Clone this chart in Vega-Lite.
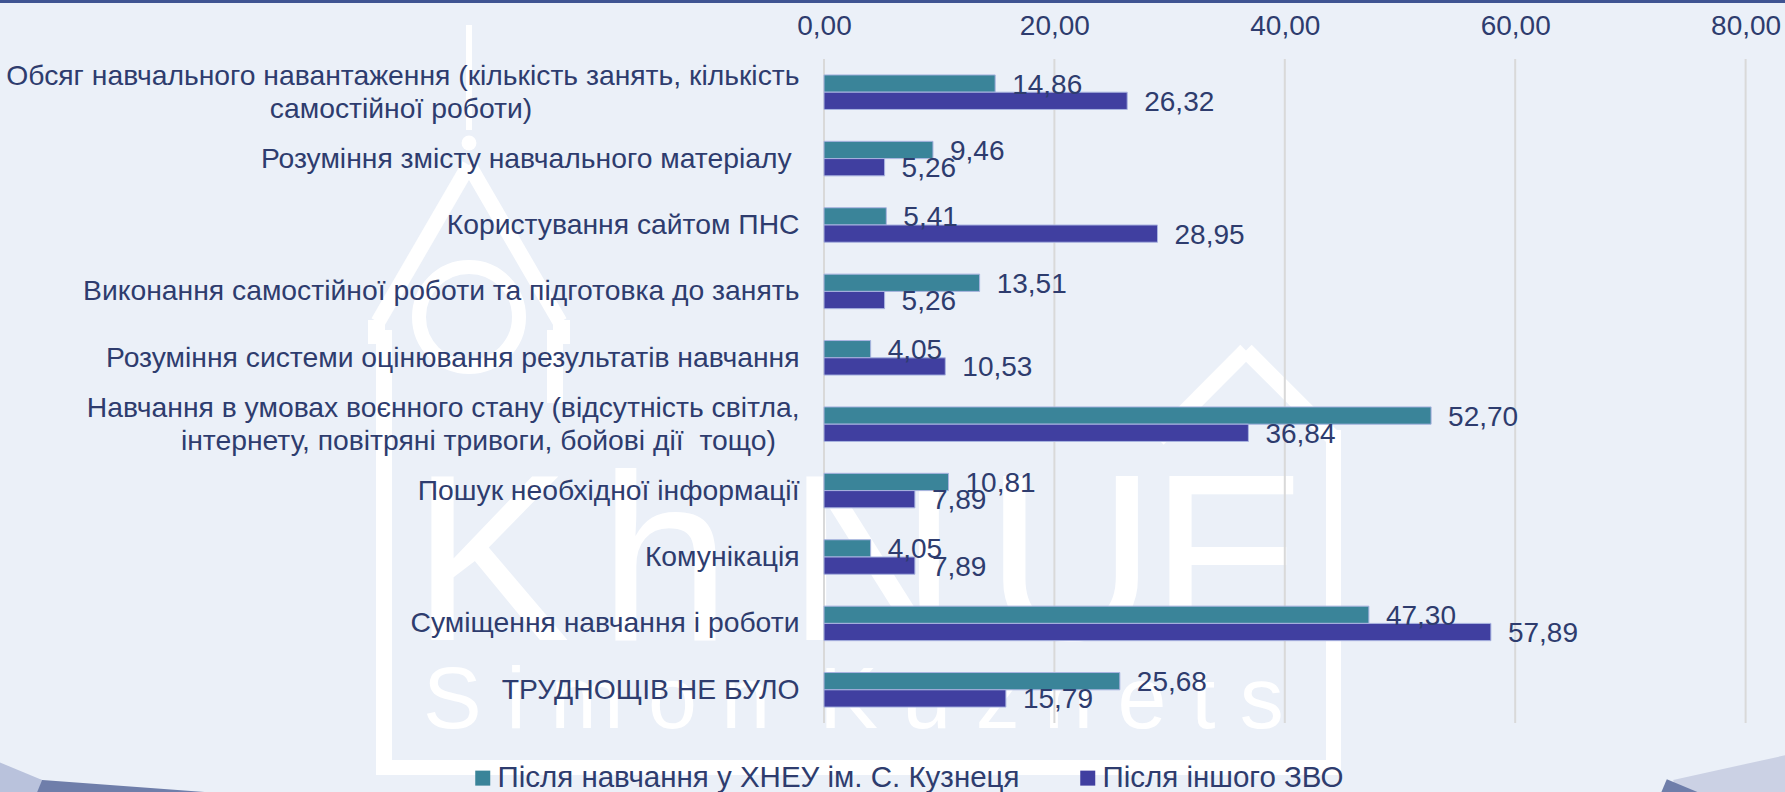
{
"$schema":"https://vega.github.io/schema/vega-lite/v6.json",
"width":921.6,"height":664,
"autosize":{"type":"none"},
"padding":{"left":824,"top":59,"right":39.4,"bottom":69},
"background":"#EBF0F8",
"config":{"view":{"stroke":null},"font":"Liberation Sans","locale":{"number":{"decimal":",","thousands":" ","grouping":[3],"currency":["",""]}}},
"datasets":{"rows":[
{"c":"Обсяг навчального навантаження (кількість занять, кількість|самостійної роботи)","s":"Після навчання у ХНЕУ ім. С. Кузнеця","v":14.86},
{"c":"Обсяг навчального навантаження (кількість занять, кількість|самостійної роботи)","s":"Після іншого ЗВО","v":26.32},
{"c":"Розуміння змісту навчального матеріалу","s":"Після навчання у ХНЕУ ім. С. Кузнеця","v":9.46},
{"c":"Розуміння змісту навчального матеріалу","s":"Після іншого ЗВО","v":5.26},
{"c":"Користування сайтом ПНС","s":"Після навчання у ХНЕУ ім. С. Кузнеця","v":5.41},
{"c":"Користування сайтом ПНС","s":"Після іншого ЗВО","v":28.95},
{"c":"Виконання самостійної роботи та підготовка до занять","s":"Після навчання у ХНЕУ ім. С. Кузнеця","v":13.51},
{"c":"Виконання самостійної роботи та підготовка до занять","s":"Після іншого ЗВО","v":5.26},
{"c":"Розуміння системи оцінювання результатів навчання","s":"Після навчання у ХНЕУ ім. С. Кузнеця","v":4.05},
{"c":"Розуміння системи оцінювання результатів навчання","s":"Після іншого ЗВО","v":10.53},
{"c":"Навчання в умовах воєнного стану (відсутність світла,|інтернету, повітряні тривоги, бойові дії  тощо)","s":"Після навчання у ХНЕУ ім. С. Кузнеця","v":52.70},
{"c":"Навчання в умовах воєнного стану (відсутність світла,|інтернету, повітряні тривоги, бойові дії  тощо)","s":"Після іншого ЗВО","v":36.84},
{"c":"Пошук необхідної інформації","s":"Після навчання у ХНЕУ ім. С. Кузнеця","v":10.81},
{"c":"Пошук необхідної інформації","s":"Після іншого ЗВО","v":7.89},
{"c":"Комунікація","s":"Після навчання у ХНЕУ ім. С. Кузнеця","v":4.05},
{"c":"Комунікація","s":"Після іншого ЗВО","v":7.89},
{"c":"Суміщення навчання і роботи","s":"Після навчання у ХНЕУ ім. С. Кузнеця","v":47.30},
{"c":"Суміщення навчання і роботи","s":"Після іншого ЗВО","v":57.89},
{"c":"ТРУДНОЩІВ НЕ БУЛО","s":"Після навчання у ХНЕУ ім. С. Кузнеця","v":25.68},
{"c":"ТРУДНОЩІВ НЕ БУЛО","s":"Після іншого ЗВО","v":15.79}
]},
"layer":[
{"data":{"values":[{}]},
"layer":[
{"mark":{"type":"rule","color":"#3F5492","strokeWidth":3},"encoding":{"x":{"datum":0,"type":"quantitative","axis":null,"scale":{"domain":[824,1745.6],"zero":false,"nice":false}},"x2":{"datum":1785},"y":{"datum":1.5,"type":"quantitative","axis":null,"scale":{"domain":[723,59],"zero":false,"nice":false}},"y2":{"datum":1.5}}},
{"mark":{"type":"rule","color":"#6F7EAA","strokeWidth":30},"encoding":{"x":{"datum":21,"type":"quantitative","axis":null},"x2":{"datum":204},"y":{"datum":793.5,"type":"quantitative","axis":null},"y2":{"datum":807}}},
{"mark":{"type":"rule","color":"#B9C2DC","strokeWidth":40},"encoding":{"x":{"datum":-20,"type":"quantitative","axis":null},"x2":{"datum":34.5},"y":{"datum":776,"type":"quantitative","axis":null},"y2":{"datum":798.5}}},
{"mark":{"type":"rule","color":"#CBD1E4","strokeWidth":45},"encoding":{"x":{"datum":1678,"type":"quantitative","axis":null},"x2":{"datum":1800},"y":{"datum":802,"type":"quantitative","axis":null},"y2":{"datum":775}}},
{"mark":{"type":"rule","color":"#6F7EAA","strokeWidth":30},"encoding":{"x":{"datum":1661,"type":"quantitative","axis":null},"x2":{"datum":1692},"y":{"datum":793,"type":"quantitative","axis":null},"y2":{"datum":806}}},
{"mark":{"type":"rule","color":"white","strokeWidth":6},"encoding":{"x":{"datum":469,"type":"quantitative","axis":null},"x2":{"datum":469},"y":{"datum":25,"type":"quantitative","axis":null},"y2":{"datum":130}}},
{"mark":{"type":"point","shape":"circle","filled":true,"color":"white","opacity":1,"size":220},"encoding":{"x":{"datum":469,"type":"quantitative","axis":null},"y":{"datum":143,"type":"quantitative","axis":null}}},
{"mark":{"type":"point","shape":"circle","filled":false,"stroke":"white","opacity":1,"strokeWidth":14,"size":10000},"encoding":{"x":{"datum":469,"type":"quantitative","axis":null},"y":{"datum":317,"type":"quantitative","axis":null}}},
{"mark":{"type":"rule","color":"white","strokeWidth":15},"encoding":{"x":{"datum":469,"type":"quantitative","axis":null},"x2":{"datum":378},"y":{"datum":165,"type":"quantitative","axis":null},"y2":{"datum":322}}},
{"mark":{"type":"rule","color":"white","strokeWidth":15},"encoding":{"x":{"datum":469,"type":"quantitative","axis":null},"x2":{"datum":560},"y":{"datum":165,"type":"quantitative","axis":null},"y2":{"datum":322}}},
{"mark":{"type":"rule","color":"white","strokeWidth":17},"encoding":{"x":{"datum":376.5,"type":"quantitative","axis":null},"x2":{"datum":376.5},"y":{"datum":320,"type":"quantitative","axis":null},"y2":{"datum":344}}},
{"mark":{"type":"rule","color":"white","strokeWidth":17},"encoding":{"x":{"datum":561.5,"type":"quantitative","axis":null},"x2":{"datum":561.5},"y":{"datum":320,"type":"quantitative","axis":null},"y2":{"datum":344}}},
{"mark":{"type":"rule","color":"white","strokeWidth":16},"encoding":{"x":{"datum":384,"type":"quantitative","axis":null},"x2":{"datum":384},"y":{"datum":330,"type":"quantitative","axis":null},"y2":{"datum":775}}},
{"mark":{"type":"rule","color":"white","strokeWidth":16},"encoding":{"x":{"datum":555,"type":"quantitative","axis":null},"x2":{"datum":555},"y":{"datum":330,"type":"quantitative","axis":null},"y2":{"datum":403}}},
{"mark":{"type":"rule","color":"white","strokeWidth":16},"encoding":{"x":{"datum":1246,"type":"quantitative","axis":null},"x2":{"datum":1333},"y":{"datum":350.5,"type":"quantitative","axis":null},"y2":{"datum":437.5}}},
{"mark":{"type":"rule","color":"white","strokeWidth":16},"encoding":{"x":{"datum":1246,"type":"quantitative","axis":null},"x2":{"datum":1158},"y":{"datum":350.5,"type":"quantitative","axis":null},"y2":{"datum":439}}},
{"mark":{"type":"rule","color":"white","strokeWidth":15},"encoding":{"x":{"datum":1333.5,"type":"quantitative","axis":null},"x2":{"datum":1333.5},"y":{"datum":430,"type":"quantitative","axis":null},"y2":{"datum":775}}},
{"mark":{"type":"rule","color":"white","strokeWidth":15},"encoding":{"x":{"datum":376,"type":"quantitative","axis":null},"x2":{"datum":1341},"y":{"datum":767.5,"type":"quantitative","axis":null},"y2":{"datum":767.5}}},
{"mark":{"type":"text","align":"left","baseline":"alphabetic","color":"white","fontSize":237},"encoding":{"x":{"datum":412,"type":"quantitative","axis":null},"y":{"datum":640,"type":"quantitative","axis":null},"text":{"value":"K"}}},
{"mark":{"type":"text","align":"left","baseline":"alphabetic","color":"white","fontSize":237},"encoding":{"x":{"datum":599,"type":"quantitative","axis":null},"y":{"datum":640,"type":"quantitative","axis":null},"text":{"value":"h"}}},
{"mark":{"type":"text","align":"left","baseline":"alphabetic","color":"white","fontSize":237},"encoding":{"x":{"datum":787,"type":"quantitative","axis":null},"y":{"datum":640,"type":"quantitative","axis":null},"text":{"value":"N"}}},
{"mark":{"type":"text","align":"left","baseline":"alphabetic","color":"white","fontSize":237},"encoding":{"x":{"datum":985,"type":"quantitative","axis":null},"y":{"datum":640,"type":"quantitative","axis":null},"text":{"value":"U"}}},
{"mark":{"type":"text","align":"left","baseline":"alphabetic","color":"white","fontSize":237},"encoding":{"x":{"datum":1150,"type":"quantitative","axis":null},"y":{"datum":640,"type":"quantitative","axis":null},"text":{"value":"E"}}},
{"mark":{"type":"text","align":"left","baseline":"alphabetic","color":"white","fontSize":88},"encoding":{"x":{"datum":423,"type":"quantitative","axis":null},"y":{"datum":728,"type":"quantitative","axis":null},"text":{"value":"S i m o n \u00a0K u z n e t s"}}}
]},
{"data":{"name":"rows"},
"layer":[
{"data":{"values":[{"g":0},{"g":20},{"g":40},{"g":60},{"g":80}]},
"mark":{"type":"rule","color":"#D9D9D9","strokeWidth":2},
"encoding":{"x":{"field":"g","type":"quantitative","scale":{"domain":[0,80],"nice":false},
"axis":{"title":null,"orient":"top","zindex":1,"values":[0,20,40,60,80],"format":".2f","ticks":false,"domain":false,"grid":false,"labelFontSize":28,"labelColor":"#2E3C6E","labelPadding":19,"labelOverlap":false,"labelFlush":false}}}},
{"mark":{"type":"bar","stroke":"#A9B4E0","strokeWidth":1},
"encoding":{
"y":{"field":"c","type":"nominal","sort":null,"scale":{"paddingInner":0.48,"paddingOuter":0.24},
"axis":{"title":null,"zindex":1,"ticks":false,"domain":false,"labelFontSize":28.3,"labelColor":"#2E3C6E","labelLimit":820,"labelPadding":25,"labelLineHeight":33,
"labelOffset":{"condition":{"test":"indexof(datum.value,'|')>0","value":-15},"value":1},
"labelExpr":"indexof(datum.label,'|')>0 ? [split(datum.label,'|')[0], replace(split(datum.label,'|')[1],'  ',' \u00a0')+pad('',indexof(datum.label,'Обсяг')==0?34:3,'\u00a0')+'\u200b'] : (indexof(datum.label,'змісту')>0 ? datum.label+'\u00a0\u200b' : datum.label)"}},
"yOffset":{"field":"s","type":"nominal","sort":null,"scale":{"paddingInner":0,"paddingOuter":0}},
"x":{"field":"v","type":"quantitative"},
"color":{"field":"s","type":"nominal","sort":null,"scale":{"domain":["Після навчання у ХНЕУ ім. С. Кузнеця","Після іншого ЗВО"],"range":["#3A8499","#403FA0"]},
"legend":{"title":null,"orient":"none","legendX":-356,"legendY":704,"direction":"horizontal","columns":2,"symbolType":"square","symbolSize":225,"symbolStrokeWidth":0,"labelFontSize":29.5,"labelColor":"#2E3C6E","labelLimit":700,"columnPadding":53,"labelOffset":0}}}},
{"mark":{"type":"text","align":"left","baseline":"middle","dx":17,"dy":2,"fontSize":28,"color":"#2E3C6E"},
"encoding":{
"y":{"field":"c","type":"nominal","sort":null},
"yOffset":{"field":"s","type":"nominal","sort":null},
"x":{"field":"v","type":"quantitative"},
"text":{"field":"v","type":"quantitative","format":".2f"}}}
]}
],
"resolve":{"scale":{"x":"independent","y":"independent"}}
}
